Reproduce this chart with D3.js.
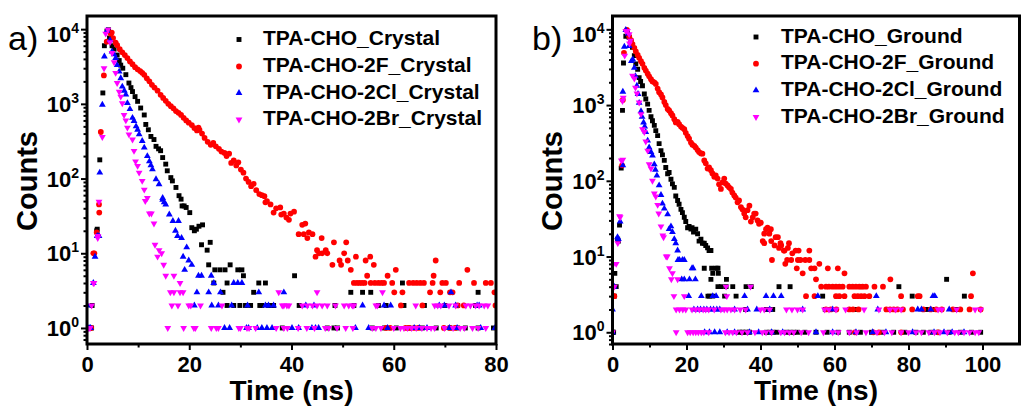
<!DOCTYPE html>
<html>
<head>
<meta charset="utf-8">
<script src="https://cdn.jsdelivr.net/npm/d3@7"></script>
<style>
  body { margin: 0; background: #fff; }
  svg text { font-family: "Liberation Sans", Arial, sans-serif; }
</style>
</head>
<body>
<svg id="chart" width="1021" height="407"></svg>
<script>
// helper: several channels that sit on the same count level
const at = (c, ts) => ts.map(t => [t, c]);

// ---- panel a) crystals : [time (ns), counts]
const crystalCHO = [
  [0.2,1],[0.5,1],[0.9,1],[1.0,2],[1.9,20],[2.0,21],[2.5,178],[3.1,1400],[3.4,6000],[3.9,9400],[4.2,9800],
  [4.4,7600],[4.9,6000],[5.3,5400],[5.9,4500],[6.3,3800],[6.6,3300],[7.0,3000],[7.6,2460],[8.2,1900],[8.6,1650],
  [8.9,1460],[9.4,1250],[9.9,1080],[10.5,880],[11.2,710],[11.5,530],[12.0,450],[12.5,366],[13.1,333],[13.5,270],
  [14.0,250],[14.4,236],[14.8,191],[15.4,156],[15.7,127],[16.4,103],[16.7,93],[17.4,76],[18.0,59],[18.4,53],
  [18.6,43],[19.0,43],[19.4,41],[20.1,35],[20.5,22],[21.0,20],[21.4,21],[21.9,23],[22.6,24],[22.4,13],[23.5,11],
  [24.1,14],[23.8,7],[25.0,6],[26.0,6],[27.0,6],[28.0,7],[29.5,6],[30.3,6],[30.6,5],[40.6,5],
  ...at(4, [24.8,27.4,33.6,34.9,61.7]),
  ...at(3, [26.6,32.6,51.6,53.9,55.5,76.5]),
  ...at(2, [27.4,28.7,29.9,31.0,32.0,33.8,34.2,35.5,36.2,36.5,41.5,48.5,52.2,57.0,58.5,62.0,66.0,70.0,72.5,76.0]),
  ...at(1, [38.2,47.0,48.3,49.0,55.8,58.2,60.5,63.0,65.6,68.3,71.0,72.5,74.0,76.5,79.5])
];
const crystal2F = [
  [0.4,1],[0.8,1],[1.24,10],[1.44,10],[1.9,19],[2.4,35],[2.35,45],[2.7,420],[3.3,2400],[3.86,6800],[4.64,8700],[4.84,9000],
  [5.1,7600],[5.6,6600],[5.9,6100],[6.4,5400],[6.9,4900],[7.4,4500],[7.9,4100],[8.4,3700],[8.9,3400],[9.4,3100],
  [9.9,2900],[10.4,2750],[10.8,2600],[11.2,2450],[11.7,2200],[12.2,2000],[12.7,1800],[13.2,1650],[13.8,1500],
  [14.4,1320],[14.9,1200],[15.4,1100],[15.9,1000],[16.4,930],[16.9,870],[17.4,800],[17.9,760],[18.4,710],[18.9,650],
  [19.4,600],[19.9,560],[20.5,520],[21.0,475],[21.5,440],[21.8,480],[22.0,450],[22.5,400],[23.0,350],[23.6,310],
  [24.2,283],[24.7,300],[25.2,270],[25.8,250],[26.3,230],[26.9,220],[27.3,200],[27.8,215],[28.2,162],[28.7,175],
  [29.2,150],[29.6,165],[30.1,132],[30.6,120],[31.1,100],[31.6,90],[32.1,79],[32.6,85],[33.1,70],[33.7,62],
  [34.2,60],[34.7,58],[34.9,48],[35.2,50],[35.9,45],[36.5,35],[37.0,40],[37.8,41],[38.0,33],[38.5,34],[39.0,30],
  [39.5,28],[39.8,34],[40.5,36],[41.4,18],[42.1,24],[42.4,18],[42.7,25],[43.1,16],[43.4,19],[44.1,18],[44.7,9],
  [45.0,11],[45.4,10],[45.9,16],[46.0,10],[46.7,11],[47.0,10],[48.0,7],[48.3,14],[49.4,8],[49.7,7],[50.3,10],
  [50.7,14],[51.0,8],[51.6,6],[52.6,9],[54.5,8],[54.8,5],[55.4,9],[56.1,7],[58.8,5],[60.4,6],[67.8,5],[68.2,8],[74.4,6],
  ...at(4, [52.2,52.8,53.3,53.8,54.3,55.5,56.3,57.0,57.6,58.1,59.7,63.0,63.8,64.5,65.2,65.9,67.6,69.5,70.2,72.8,75.7,78.0,79.0]),
  ...at(3, [60.1,61.7,67.1,69.1,71.0,71.5,79.7]),
  ...at(2, [61.4,65.6,72.5,73.7,79.9]),
  ...at(1, [58.5,59.3,62.3,63.0,64.0,64.8,69.8,71.0,72.0])
];
const crystal2Cl = [
  [0.07,2],[0.4,1],[0.7,1],[1.24,4],[1.57,9],[2.0,17],[2.35,17],[2.5,120],[3.0,975],[3.4,4300],[3.9,9500],
  [4.5,7100],[4.9,5000],[5.3,4600],[5.6,4100],[5.9,3300],[6.3,2700],[6.6,2200],[6.9,1700],[7.3,1500],[7.6,1330],
  [7.9,1025],[8.4,850],[8.9,650],[9.2,590],[9.6,500],[9.9,450],[10.2,390],[10.8,318],[11.2,260],[11.8,200],
  [12.2,170],[12.5,150],[12.8,133],[13.5,98],[14.1,84],[14.8,55],[15.1,48],[14.8,52],[15.4,45],[16.1,33],[16.8,27],
  [17.9,27],[17.3,20],[17.7,17],[18.5,16],[19.5,12],[18.8,9],[19.9,8],[20.5,7],[19.1,6],[21.8,5],[22.4,5],[24.3,5],
  ...at(4, [24.8,28.7,29.5,30.3]),
  ...at(3, [21.5,23.8,26.1,33.6,38.5,71.2]),
  ...at(2, [21.0,24.4,25.7,28.3,31.4,34.9,35.5,36.5,42.8,44.4,53.9,58.1,59.4,68.9,69.9,72.1,76.3,76.7]),
  ...at(1, [26.9,27.9,31.2,31.6,33.3,34.2,35.2,36.2,40.1,41.4,44.0,44.7,45.3,52.5,55.1,58.8,64.0,65.0,66.5,70.9,72.4,77.0,79.8])
];
const crystal2Br = [
  [0.24,1],[0.39,1],[0.6,1],[0.9,2],[1.24,4],[1.37,4],[2.1,16],[2.15,17],[2.35,49],[3.0,360],[3.33,3000],[3.66,8700],[4.1,9800],
  [4.5,6700],[4.9,4800],[5.3,3600],[5.6,2600],[5.9,1900],[6.3,1450],[6.6,1250],[6.9,1020],[7.25,710],[7.6,600],
  [7.9,480],[8.2,390],[8.9,333],[9.2,235],[9.5,170],[9.9,148],[10.2,120],[10.8,93],[11.2,71],[11.4,50],[11.8,55],
  [12.2,34],[12.6,34],[13.1,25],[13.3,13],[13.8,9],[14.1,11],[14.6,10],[15.0,7],[15.4,5],[17.0,5],
  ...at(4, [18.2]),
  ...at(3, [16.3,17.0,18.2,18.8,37.5,45.0,57.8]),
  ...at(2, [16.6,17.8,19.9,20.3,22.2,26.4,38.2,38.5,39.1,39.5,42.1,43.1,44.1,45.0,46.0,47.0,48.6,50.3,51.2,51.9,52.2,
            56.5,56.8,64.3,68.0,68.6,69.2,70.8,72.1,74.1,75.0,76.0,76.7,77.7,78.4]),
  ...at(1, [15.8,18.9,20.9,21.2,24.3,25.3,25.7,29.7,30.0,31.3,31.7,33.0,37.0,38.5,39.2,41.3,43.0,44.5,46.6,47.3,48.9,
            50.6,52.0,55.8,56.5,57.5,60.0,61.3,62.0,62.7,63.5,64.4,65.5,66.5,67.3,68.0,69.9,71.6,73.0,73.8,75.4,76.5,78.0])
];

// ---- panel b) ground powders
const groundCHO = [
  [0.0,1],[0.3,1],[0.5,3],[0.63,6],[1.0,4],[1.4,17],[1.6,16],[1.9,26],[2.35,147],[2.7,850],[2.97,3600],[3.6,8100],[4.05,9400],
  [4.5,7800],[5.0,6800],[5.4,5800],[5.9,4500],[6.3,3500],[6.8,2970],[7.2,2300],[7.6,2050],[8.1,1800],[8.6,1400],
  [9.0,1200],[9.5,1030],[9.9,850],[10.4,700],[10.8,620],[11.3,540],[11.7,460],[12.2,395],[12.6,310],[13.1,250],
  [13.5,220],[14.0,186],[14.4,150],[14.9,124],[15.3,129],[15.8,105],[16.2,91],[16.7,82],[17.1,63],[17.6,55],[18.0,49],
  [18.5,42],[18.9,38],[19.4,33],[19.8,29],[20.3,24],[20.7,25],[21.2,23],[21.5,24],[21.9,21],[22.5,23],[23.0,20],
  [23.4,16],[23.9,17],[24.3,15],[24.8,15],[25.2,14],[25.7,13],[26.1,12],[26.6,12],
  [24.8,7],[26.8,7],[28.0,7],[28.5,7],[27.1,6],[28.6,6],[26.6,5],[30.8,5],[90.3,5],
  ...at(4, [28.5,29.4,30.7,32.5,36.1,37.5,45.0,48.0,67.2,77.4]),
  ...at(3, [25.8,26.2,27.1,30.3,33.4,56.8,81.0,95.1]),
  ...at(2, [36.0,41.6,42.4,43.3,57.5,59.0,66.0,85.0,87.3,93.0]),
  ...at(1, [34.3,35.2,36.1,37.0,41.6,42.5,43.4,44.4,47.0,48.0,49.0,50.0,52.0,55.0,58.0,61.0,64.0,67.0,70.0,73.0,
            76.0,79.0,82.0,84.0,86.0,88.0,91.0,94.0,97.0,99.5])
];
const ground2F = [
  [0.27,3],[0.5,3],[2.6,160],[2.8,1170],[3.1,4900],[3.9,9800],
  [4.5,8100],[5.0,7200],[5.4,6400],[5.9,5700],[6.3,5100],[6.8,4600],[7.2,4200],[7.7,3800],[8.1,3500],[8.6,3100],
  [9.0,2850],[9.5,2600],[9.9,2400],[10.4,2200],[10.8,2050],[11.3,2000],[11.7,1900],[12.2,1650],[12.6,1480],
  [13.1,1380],[13.5,1260],[14.0,1100],[14.4,1000],[14.9,890],[15.3,850],[15.8,780],[16.2,730],[16.7,650],[17.1,590],
  [17.6,600],[18.0,560],[18.5,520],[18.9,500],[19.4,480],[19.8,430],[20.3,390],[20.7,360],[21.2,320],[21.6,300],
  [22.1,290],[22.5,275],[23.0,255],[23.4,240],[23.9,230],[24.3,228],[24.8,186],[25.2,170],[25.7,145],[26.1,150],
  [26.6,138],[27.0,125],[27.5,113],[27.9,118],[28.4,107],[28.8,90],[29.3,78],[29.7,95],[30.2,107],[30.6,92],
  [31.1,87],[31.5,82],[32.0,78],[32.4,70],[32.9,64],[33.3,60],[33.8,52],[34.2,55],[34.7,45],[35.1,42],[35.6,37],
  [36.0,33],[36.5,41],[37.0,47],[37.4,29],[37.9,33],[38.3,37],[38.7,37],[39.2,30],[39.6,27],[40.1,28],[40.6,16],
  [41.0,20],[41.0,15],[41.5,23],[41.9,24],[42.4,20],[42.8,23],[42.9,16],[43.1,9],[43.8,14],[44.1,18],[44.7,18],
  [45.0,13],[45.4,15],[45.6,14],[46.3,12],[46.5,12],[46.7,8],[47.2,9],[47.4,13],[47.7,15],[48.3,9],[48.6,11],
  [49.5,12],[49.8,7],[50.1,9],[50.3,12],[50.8,9],[51.4,6],[52.1,9],[53.2,12],[53.2,9],[53.7,7],[54.6,7],[55.0,5],
  [55.9,8],[58.2,7],[60.9,7],[62.7,6],[75.1,5],[97.4,6],
  ...at(4, [56.4,57.7,58.5,59.5,60.4,61.3,62.2,64.0,64.9,65.8,66.7,67.6,68.5,70.8,73.1]),
  ...at(3, [52.3,54.6,60.4,61.3,62.7,65.4,66.3,67.2,68.1,69.4,78.0,82.5,83.0,96.9]),
  ...at(2, [57.7,59.0,60.5,64.0,65.0,66.5,74.0,75.0,76.0,77.0,78.5,81.0,84.0,86.0,87.5,89.0,92.0,94.0,96.5,99.5]),
  ...at(1, [65.5,70.5,72.0,78.0,88.0])
];
const ground2Cl = [
  [0.0,2],[0.0,1],[0.45,4],[1.35,18],[1.6,17],[2.07,29],[2.8,160],[2.8,1500],[3.2,5900],[3.6,9800],
  [4.2,8800],[4.5,6000],[5.1,3800],[5.5,4000],[5.9,3100],[6.2,2400],[6.6,1800],[6.9,1400],[7.2,1070],[7.7,830],
  [8.0,700],[8.4,590],[8.7,520],[9.0,440],[9.5,340],[9.9,275],[10.4,240],[10.8,215],[11.3,165],[11.6,140],[12.0,117],
  [12.6,87],[13.1,65],[13.5,50],[14.0,43],[14.9,36],[15.3,23],[15.8,25],[16.2,21],[16.7,17],[17.1,15],[17.6,12],
  [17.7,9],[18.1,9],[18.9,9],[19.4,9],
  ...at(7, [21.5,21.8]),
  ...at(5, [18.7,19.4,20.8,22.4]),
  ...at(3, [20.6,24.0,27.1,28.0,35.7,41.5,43.5,45.6,55.5,71.3,86.6,87.1]),
  ...at(2, [22.0,23.0,23.8,24.7,25.5,26.5,27.3,28.2,29.0,33.0,36.5,39.0,42.5,51.4,59.5,71.7,82.5,83.5,86.0,91.0]),
  ...at(1, [24.9,26.2,27.6,29.0,31.0,33.0,37.0,39.5,43.0,46.0,55.0,59.5,65.8,70.3,73.9,81.1,86.9,89.6,91.8,95.0])
];
const ground2Br = [
  [0.0,1],[0.27,8],[0.5,4],[1.0,8],[1.43,15],[1.9,34],[2.07,33],[2.4,185],[2.8,190],[2.7,1130],[2.9,1250],[3.3,4500],[3.6,9500],
  [4.05,9500],[4.5,8600],[4.6,6500],[4.8,7100],[5.4,2450],[5.9,2240],[6.2,1700],[6.6,1420],[7.2,1080],[7.7,760],
  [8.1,480],[8.6,440],[9.0,330],[9.5,250],[9.9,165],[10.4,145],[10.8,100],[11.3,68],[11.7,62],[12.2,48],[12.5,37],
  [13.1,25],[13.6,19],[13.8,18],[14.5,10],[14.8,10],[15.4,7],[15.9,5],[16.2,6],[17.6,5],
  ...at(4, [30.7,37.3]),
  ...at(3, [16.6,19.4,30.9]),
  ...at(2, [17.2,18.1,19.0,19.8,21.5,22.5,23.5,24.5,25.2,26.0,27.5,29.3,30.2,31.0,32.0,33.0,34.5,36.0,40.0,41.0,
            42.5,47.0,48.5,50.0,51.4,57.3,58.5,60.4,63.0,68.0,72.0,75.0,76.5,78.0,88.0,89.0,93.0,98.0,99.5]),
  ...at(1, [17.2,20.3,21.0,21.8,22.5,23.2,24.0,24.7,26.0,30.5,31.5,32.5,33.5,35.0,36.5,38.5,40.5,41.5,43.0,45.5,
            46.5,47.8,49.0,51.0,53.0,57.0,59.5,61.0,64.0,66.0,68.5,71.5,73.5,75.5,78.0,80.0,82.0,83.5,85.5,87.0,
            88.5,90.5,92.5,93.5,95.0,96.5,98.0,99.0])
];

const crystalNames = ["TPA-CHO_Crystal", "TPA-CHO-2F_Crystal", "TPA-CHO-2Cl_Crystal", "TPA-CHO-2Br_Crystal"];
const groundNames = ["TPA-CHO_Ground", "TPA-CHO-2F_Ground", "TPA-CHO-2Cl_Ground", "TPA-CHO-2Br_Ground"];
const xTicksA = [0, 20, 40, 60, 80];
const xTicksB = [0, 20, 40, 60, 80, 100];
const yTicks = [1, 10, 100, 1000, 10000];

const colors = ["#000000", "#ff0000", "#0000ff", "#ff00ff"];
const shapes = [d3.symbolSquare, d3.symbolCircle, d3.symbolTriangle, d3.symbolTriangle];
const sizes = [24, 26, 20, 20];

const svg = d3.select("#chart");

function drawPanel(p) {
  const x = d3.scaleLinear().domain(p.xDomain).range([p.left, p.right]);
  const y = d3.scaleLog().domain(p.yDomain).range([p.bottom, p.top]);
  const g = svg.append("g");

  g.append("clipPath").attr("id", "clip-" + p.id)
    .append("rect")
      .attr("x", p.left).attr("y", p.top)
      .attr("width", p.right - p.left).attr("height", p.bottom - p.top);

  const marker = (i) => d3.symbol().type(shapes[i]).size(sizes[i]);
  const rot = (i) => (i === 3 ? " rotate(180)" : "");

  // points
  p.series.forEach((s, i) => {
    g.append("g").attr("clip-path", `url(#clip-${p.id})`)
      .selectAll("path")
      .data(s)
      .join("path")
        .attr("d", marker(i))
        .attr("transform", d => `translate(${x(d[0])},${y(d[1])})${rot(i)}`)
        .attr("fill", colors[i]);
  });

  // x axis, major + minor ticks (outward)
  const xAxis = g.append("g").attr("transform", `translate(0,${p.bottom})`)
    .call(d3.axisBottom(x).tickValues(p.xTicks).tickSize(6).tickSizeOuter(0).tickPadding(6));
  g.append("g").attr("transform", `translate(0,${p.bottom})`)
    .call(d3.axisBottom(x).tickValues(p.xMinor).tickSize(3.5).tickSizeOuter(0).tickFormat(""));

  // y axis, log minors
  const yMinor = [];
  [0.1, 1, 10, 100, 1000].forEach(dec => {
    for (let k = 2; k <= 9; k++) {
      const v = dec * k;
      if (v > p.yDomain[0] && v < p.yDomain[1]) yMinor.push(v);
    }
  });
  g.append("g").attr("transform", `translate(${p.left},0)`)
    .call(d3.axisLeft(y).tickValues(yTicks).tickSize(6).tickSizeOuter(0).tickFormat(""));
  g.append("g").attr("transform", `translate(${p.left},0)`)
    .call(d3.axisLeft(y).tickValues(yMinor).tickSize(3.5).tickSizeOuter(0).tickFormat(""));

  g.selectAll(".domain").remove();
  g.selectAll(".tick line").attr("stroke", "#000").attr("stroke-width", 2);
  xAxis.selectAll(".tick text")
    .attr("font-size", 22).attr("font-weight", "bold").attr("fill", "#000")
    .attr("font-family", '"Liberation Sans", Arial, sans-serif');

  // y tick labels as 10^n
  const yl = g.append("g").selectAll("text")
    .data(yTicks)
    .join("text")
      .attr("x", p.left - 8)
      .attr("y", d => y(d) + (d === 10000 ? 13 : 8))
      .attr("text-anchor", "end")
      .attr("font-size", 22).attr("font-weight", "bold");
  yl.append("tspan").text("10");
  yl.append("tspan").attr("font-size", 14).attr("dy", -9).text(d => Math.round(Math.log10(d)));

  // frame
  g.append("rect")
    .attr("x", p.left).attr("y", p.top)
    .attr("width", p.right - p.left).attr("height", p.bottom - p.top)
    .attr("fill", "none").attr("stroke", "#000").attr("stroke-width", 3);

  // axis titles
  g.append("text")
    .attr("x", (p.left + p.right) / 2).attr("y", 400)
    .attr("text-anchor", "middle").attr("font-size", 28).attr("font-weight", "bold")
    .text("Time (ns)");
  g.append("text")
    .attr("transform", `translate(${p.yTitleX},181) rotate(-90)`)
    .attr("text-anchor", "middle").attr("font-size", p.yTitleSize).attr("font-weight", "bold")
    .text("Counts");

  // panel letter
  g.append("text")
    .attr("x", p.letterX).attr("y", 50)
    .attr("font-size", 34)
    .text(p.letter);

  // legend
  const lg = g.append("g").selectAll("g")
    .data(p.names)
    .join("g")
      .attr("transform", (d, i) => `translate(0,${p.legendY[i]})`);
  lg.append("path")
    .attr("d", (d, i) => marker(i)())
    .attr("transform", (d, i) => `translate(${p.legendMarkX},2)${rot(i)}`)
    .attr("fill", (d, i) => colors[i]);
  lg.append("text")
    .attr("x", p.legendTextX).attr("y", 7.5)
    .attr("font-size", 21).attr("font-weight", "bold")
    .text(d => d);
}

drawPanel({
  id: "a", letter: "a)", letterX: 8,
  left: 87, right: 496, top: 16, bottom: 344,
  xDomain: [0, 80], yDomain: [0.61, 15000],
  xTicks: xTicksA, xMinor: [10, 30, 50, 70],
  series: [crystalCHO, crystal2F, crystal2Cl, crystal2Br],
  names: crystalNames,
  legendY: [37.5, 64.5, 91, 117.5], legendMarkX: 239, legendTextX: 263,
  yTitleX: 37, yTitleSize: 29
});

drawPanel({
  id: "b", letter: "b)", letterX: 532,
  left: 612.5, right: 1019.5, top: 16, bottom: 344,
  xDomain: [0, 110], yDomain: [0.70, 15000],
  xTicks: xTicksB, xMinor: [10, 30, 50, 70, 90],
  series: [groundCHO, ground2F, ground2Cl, ground2Br],
  names: groundNames,
  legendY: [35, 61.7, 88.3, 115], legendMarkX: 756, legendTextX: 781,
  yTitleX: 562, yTitleSize: 29
});
</script>
</body>
</html>
